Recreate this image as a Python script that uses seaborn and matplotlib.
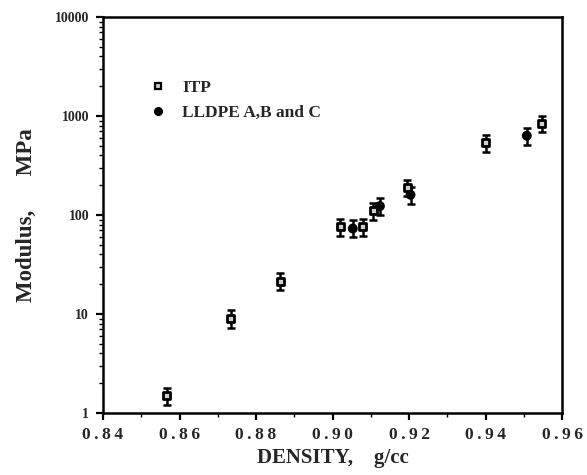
import numpy as np
import pandas as pd
import matplotlib
matplotlib.use("Agg")
import matplotlib.pyplot as plt
import seaborn as sns
from matplotlib.ticker import LogLocator, FixedLocator, NullFormatter

# data
itp_density = [0.8567, 0.8734, 0.8864, 0.9020, 0.9079, 0.9107, 0.9196, 0.9401, 0.9547]
itp_modulus = [1.5, 9.0, 21.5, 76, 76, 110, 189, 537, 844]
itp_low = [1.2, 7.3, 17.5, 62, 62, 90, 155, 436, 684]
itp_high = [1.8, 11.0, 26, 91, 91, 132, 226, 645, 1007]

lldpe_density = [0.9053, 0.9124, 0.9204, 0.9508]
lldpe_modulus = [73, 123, 160, 632]
lldpe_low = [60, 100, 130, 510]
lldpe_high = [88, 148, 192, 750]

x_ticks = [0.84, 0.86, 0.88, 0.90, 0.92, 0.94, 0.96]
x_tick_labels = ["0.84", "0.86", "0.88", "0.90", "0.92", "0.94", "0.96"]
y_ticks = [1, 10, 100, 1000, 10000]
y_tick_labels = ["1", "10", "100", "1000", "10000"]

df = pd.DataFrame({
    "density": itp_density + lldpe_density,
    "modulus": itp_modulus + lldpe_modulus,
    "low": itp_low + lldpe_low,
    "high": itp_high + lldpe_high,
    "group": ["ITP"] * len(itp_density) + ["LLDPE A,B and C"] * len(lldpe_density),
})

sns.set_theme(style="ticks")
plt.rcParams["font.family"] = ["Liberation Serif", "DejaVu Serif"]
plt.rcParams["font.weight"] = "bold"

def spaced(s):
    # the scan has wide letter spacing on the x tick labels
    return "\u2009".join(s)

fig = plt.figure(figsize=(5.87, 4.75), dpi=100)
ax = fig.add_axes([103 / 587, 1 - 413 / 475, (562 - 103) / 587, (413 - 17) / 475])

# error bars first
for g, sub in df.groupby("group"):
    yerr = np.vstack([sub["modulus"] - sub["low"], sub["high"] - sub["modulus"]])
    ax.errorbar(sub["density"], sub["modulus"], yerr=yerr, fmt="none",
                ecolor="black", elinewidth=1.8, capsize=3.2, capthick=1.8, zorder=2)

sns.scatterplot(data=df, x="density", y="modulus", style="group", hue="group",
                markers={"ITP": "s", "LLDPE A,B and C": "o"},
                palette={"ITP": "black", "LLDPE A,B and C": "black"},
                s=26, ax=ax, zorder=3, legend=False)
# open squares for ITP
ax.collections[-1].set_facecolor(
    ["#d0d0d0" if g == "ITP" else "black" for g in df["group"]])
ax.collections[-1].set_edgecolor("black")
ax.collections[-1].set_linewidth(2.0)

ax.set_yscale("log")
ax.set_xlim(0.84, 0.96)
ax.set_ylim(1, 10000)

ax.xaxis.set_major_locator(FixedLocator(x_ticks))
ax.xaxis.set_minor_locator(FixedLocator(np.arange(0.85, 0.96, 0.02)))
ax.set_xticklabels([spaced(t) for t in x_tick_labels], fontsize=12.5, fontweight="bold")
ax.yaxis.set_major_locator(FixedLocator(y_ticks))
ax.yaxis.set_minor_locator(LogLocator(base=10, subs=np.arange(2, 10)))
ax.yaxis.set_minor_formatter(NullFormatter())
ax.set_yticklabels(y_tick_labels, fontsize=10, fontweight="bold")

ax.tick_params(axis="both", which="major", direction="out", length=5, width=1.6, color="black", pad=5)
ax.tick_params(axis="both", which="minor", direction="out", length=3, width=1.0, color="black")
for sp in ax.spines.values():
    sp.set_linewidth(1.8)
    sp.set_color("black")

ax.set_xlabel("DENSITY,    g/cc", fontsize=15, fontweight="bold", labelpad=4)
ax.set_ylabel("Modulus,      MPa", fontsize=16.5, fontweight="bold", labelpad=13)

# legend
h1 = plt.Line2D([], [], marker="s", color="none", markerfacecolor="#d0d0d0",
                markeredgecolor="black", markeredgewidth=1.6, markersize=5)
h2 = plt.Line2D([], [], marker="o", color="none", markerfacecolor="black",
                markeredgecolor="black", markersize=5.5)
ax.legend([h1, h2], ["ITP", "LLDPE A,B and C"], loc="upper left",
          bbox_to_anchor=(0.055, 0.88), frameon=False, handletextpad=0.6,
          handlelength=1.6, labelspacing=0.5, prop={"weight": "bold", "size": 12.5})

fig.savefig("out.png", dpi=100)
